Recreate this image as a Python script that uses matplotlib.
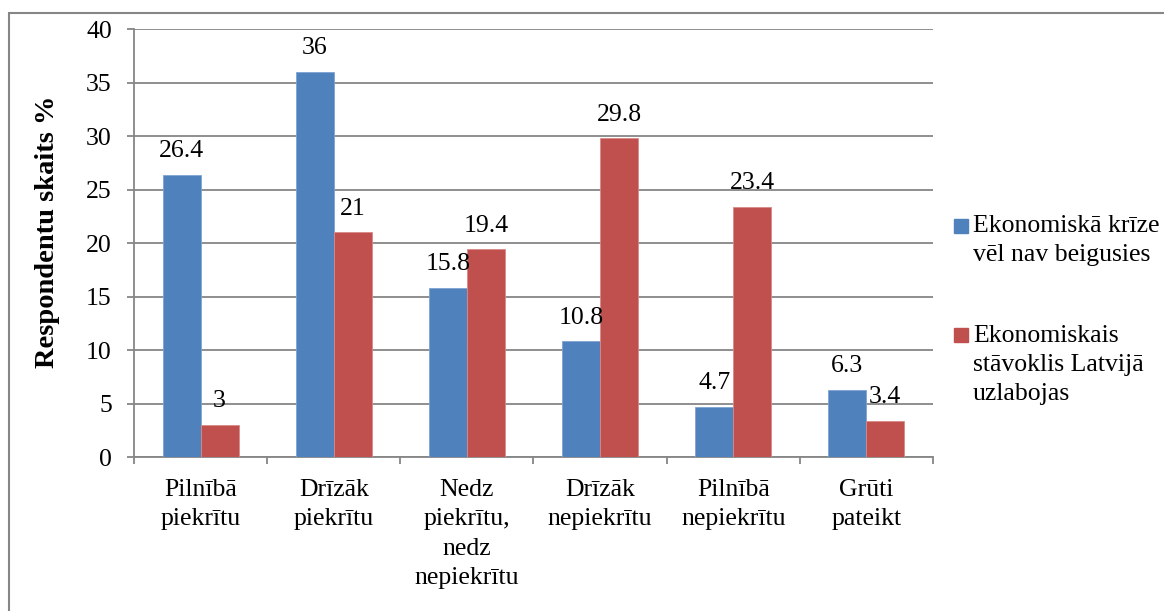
import matplotlib
matplotlib.use("Agg")
from matplotlib import pyplot as plt
from matplotlib.patches import Rectangle
import numpy as np

categories = ["Pilnībā\npiekrītu", "Drīzāk\npiekrītu", "Nedz\npiekrītu,\nnedz\nnepiekrītu",
              "Drīzāk\nnepiekrītu", "Pilnībā\nnepiekrītu", "Grūti\npateikt"]
krize = [26.4, 36, 15.8, 10.8, 4.7, 6.3]
uzlabojas = [3, 21, 19.4, 29.8, 23.4, 3.4]
series_names = ["Ekonomiskā krīze\nvēl nav beigusies",
                "Ekonomiskais\nstāvoklis Latvijā\nuzlabojas"]
colors = ["#4F81BD", "#C0504D"]

plt.rcParams['font.family'] = ['Liberation Serif', 'DejaVu Serif']
fs = 18.5

fig = plt.figure(figsize=(11.64, 6.11), dpi=100)
ax = fig.add_axes([0.1151, 0.252, 0.8015 - 0.1151, 0.9525 - 0.252])

# outer chart border
fig.patches.append(Rectangle((9 / 1164, -0.1), 1.2, 1 - 13 / 611 + 0.1,
                             transform=fig.transFigure, fill=False,
                             edgecolor="#868686", linewidth=1.5))

x = np.arange(len(categories))
w = 0.285
b1 = ax.bar(x - w / 2, krize, w, color=colors[0], edgecolor="#7FA3D3", linewidth=0.6, zorder=3)
b2 = ax.bar(x + w / 2, uzlabojas, w, color=colors[1], edgecolor="#D98A88", linewidth=0.6, zorder=3)
ax.bar_label(b1, labels=[f"{v:g}" for v in krize], padding=9, fontsize=fs)
ax.bar_label(b2, labels=[f"{v:g}" for v in uzlabojas], padding=9, fontsize=fs)

ax.set_ylim(0, 40)
ax.set_xlim(-0.5, len(categories) - 0.5)
ax.set_yticks(range(0, 41, 5))
ax.yaxis.grid(True, color="#868686", linewidth=1.3, zorder=0)
ax.set_axisbelow(True)

ax.set_xticks(x)
ax.set_xticklabels(categories, fontsize=fs, linespacing=1.42)
ax.set_xticks(np.arange(-0.5, len(categories), 1), minor=True)
ax.tick_params(axis='x', which='major', length=0, pad=16)
ax.tick_params(axis='x', which='minor', length=5, width=1.3, color="#868686")
ax.tick_params(axis='y', length=5, width=1.3, color="#868686", labelsize=fs, pad=11)

for s in ["top", "right"]:
    ax.spines[s].set_visible(False)
ax.spines["left"].set_color("#868686")
ax.spines["bottom"].set_color("#868686")
ax.spines["left"].set_linewidth(1.3)
ax.spines["bottom"].set_linewidth(1.3)

ax.set_ylabel("Respondentu skaits %", fontsize=20.5, fontweight="bold")
ax.yaxis.set_label_coords(-0.093, 0.526)

# legend, entries top-aligned like the original
text_top = [0.648, 0.468]
box_bottom = [0.6187, 0.4403]
for name, c, ty, by in zip(series_names, colors, text_top, box_bottom):
    fig.patches.append(Rectangle((954 / 1164, by), 14 / 1164, 14 / 611,
                                 transform=fig.transFigure, color=c))
    fig.text(973 / 1164, ty, name, fontsize=fs, va="top", ha="left", linespacing=1.42)

fig.savefig("out.png", dpi=100)
